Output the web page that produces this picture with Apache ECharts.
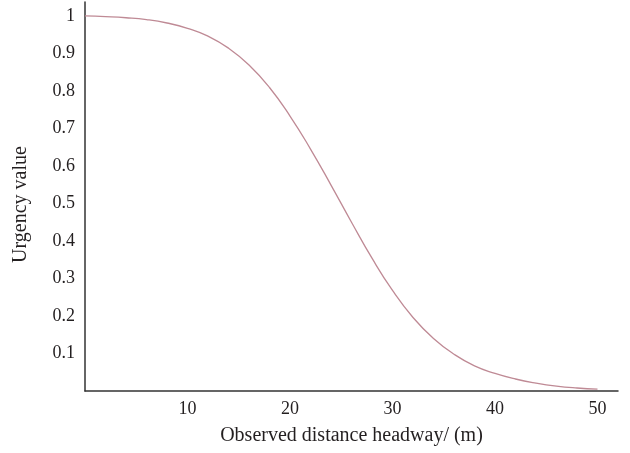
<!DOCTYPE html>
<html>
<head>
<meta charset="utf-8">
<script src="https://cdn.jsdelivr.net/npm/echarts@6/dist/echarts.min.js"></script>
<style>
html,body{margin:0;padding:0;background:#fff;}
#chart{width:630px;height:453px;}
</style>
</head>
<body>
<div id="chart"></div>
<script>
// Observed distance headway (m)
var headway = [0, 2, 4, 6, 8, 10, 12, 14, 16, 18, 20, 22, 24, 26, 28, 30, 32, 34, 36, 38, 40, 42, 44, 46, 48, 50];
// Urgency value
var urgency = [1.000, 0.998, 0.995, 0.990, 0.981, 0.967, 0.946, 0.914, 0.869, 0.809, 0.733, 0.645, 0.549, 0.450, 0.354, 0.268, 0.196, 0.140, 0.098, 0.067, 0.047, 0.032, 0.021, 0.013, 0.008, 0.005];

var xTicks = [10, 20, 30, 40, 50];
var yTicks = [0.1, 0.2, 0.3, 0.4, 0.5, 0.6, 0.7, 0.8, 0.9, 1];

var points = headway.map(function (h, i) { return [h, urgency[i]]; });
var font = '"Liberation Serif", "DejaVu Serif", serif';

var chart = echarts.init(document.getElementById('chart'), null, {renderer: 'canvas'});
chart.setOption({
  animation: false,
  backgroundColor: '#ffffff',
  grid: {left: 85, right: 12, top: 2, bottom: 62, containLabel: false},
  xAxis: {
    type: 'value', min: 0, max: 52, interval: 10,
    name: 'Observed distance headway/ (m)',
    nameLocation: 'middle', nameGap: 35,
    nameTextStyle: {fontFamily: font, fontSize: 20, color: '#231f20'},
    axisLine: {show: true, lineStyle: {color: '#333333', width: 1.5}},
    axisTick: {show: false},
    splitLine: {show: false},
    axisLabel: {
      fontFamily: font, fontSize: 18, color: '#231f20', margin: 9,
      formatter: function (v) {
        for (var i = 0; i < xTicks.length; i++) if (Math.abs(v - xTicks[i]) < 1e-9) return String(xTicks[i]);
        return '';
      }
    }
  },
  yAxis: {
    type: 'value', min: 0, max: 1.037, interval: 0.1,
    name: 'Urgency value',
    nameLocation: 'middle', nameGap: 54,
    nameTextStyle: {fontFamily: font, fontSize: 20, color: '#231f20', padding: [0, 16, 0, 0]},
    axisLine: {show: true, lineStyle: {color: '#333333', width: 1.5}},
    axisTick: {show: false},
    splitLine: {show: false},
    axisLabel: {
      fontFamily: font, fontSize: 18, color: '#231f20', margin: 10,
      formatter: function (v) {
        for (var i = 0; i < yTicks.length; i++) if (Math.abs(v - yTicks[i]) < 1e-9) return String(yTicks[i]);
        return '';
      }
    }
  },
  series: [{
    type: 'line',
    data: points,
    smooth: 0.5,
    symbol: 'none',
    lineStyle: {color: '#bf8a95', width: 1.3}
  }]
});
</script>
</body>
</html>
